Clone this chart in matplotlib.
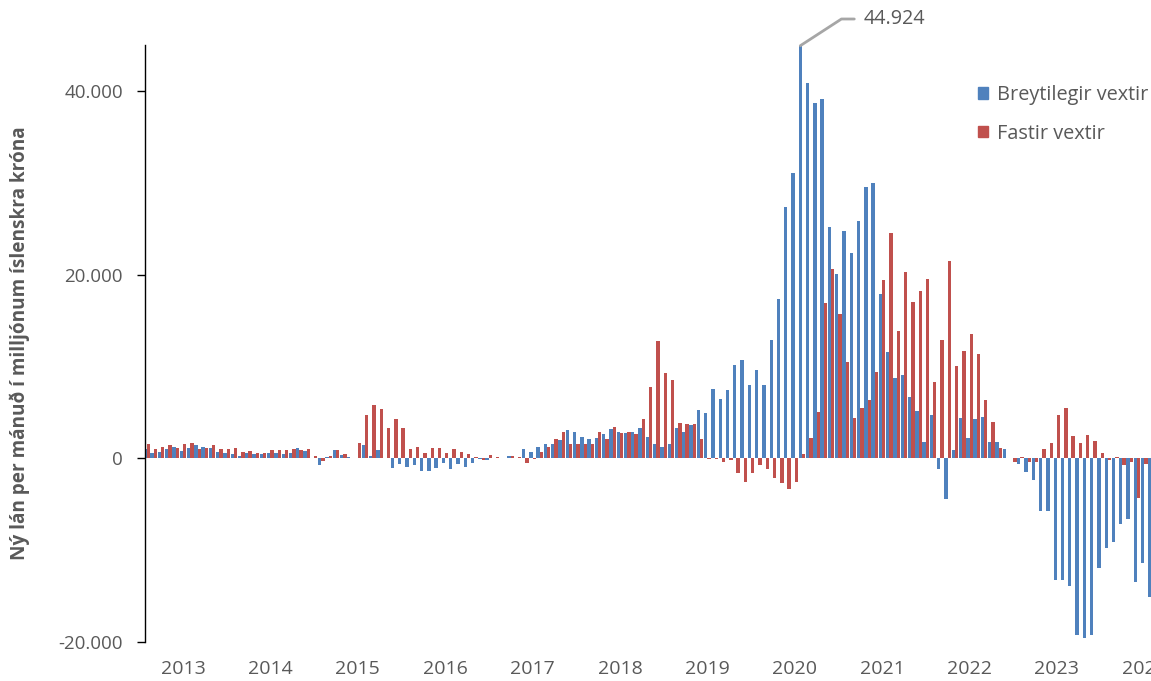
import numpy as np
import matplotlib
matplotlib.use("Agg")
import matplotlib.pyplot as plt
from matplotlib.patches import Patch

# Monthly new loans (ISK millions), first month = index 0, year labels every 12 months
breytilegir = [
    980, 620, 720, 980, 1270, 830, 1120, 1410, 1270, 1120, 720, 620,
    510, 250, 620, 510, 510, 620, 620, 510, 620, 1160, 830, 70,
    -720, 180, 870, 360, 100, 50, 1410, 200, 870, 50, -1050, -620,
    -900, -760, -1410, -1410, -1050, -470, -1200, -620, -1000, -470, -100, -220,
    50, 0, 280, 0, 980, 720, 1270, 1520, 1520, 1950, 3040, 2860,
    2350, 2060, 2210, 2610, 3190, 2900, 2750, 2900, 3290, 2350, 1520, 1270,
    1520, 3290, 2900, 3580, 5230, 4960, 7570, 6480, 7420, 10140, 10680, 7960,
    9590, 7960, 12850, 17340, 27350, 31030, 44924, 40900, 38660, 39100, 25170, 20100,
    24770, 22300, 25860, 29530, 29960, 17930, 11620, 8760, 9050, 6700, 5100, 1810,
    4670, -1120, -4380, 870, 4420, 2240, 4310, 4530, 1810, 1810, 980, 70,
    -650, -1450, -2390, -5790, -5790, -13290, -13290, -13860, -19290, -19580, -19220, -11950,
    -9770, -9090, -7170, -6620, -13430, -11400, -15060,
]
fastir = [
    1590, 980, 1270, 1410, 1120, 1560, 1700, 980, 1120, 1410, 980, 980,
    1120, 720, 830, 620, 620, 870, 870, 870, 980, 870, 980, 250,
    -320, 290, 870, 470, 50, 1700, 4670, 5760, 5390, 3330, 4310, 3330,
    980, 1270, 620, 1160, 1160, 620, 980, 720, 430, 180, -220, 330,
    100, 50, 250, 100, -470, -100, 720, 1270, 2060, 2860, 1520, 1520,
    1520, 1520, 2900, 2100, 3440, 2750, 2900, 2640, 4270, 7780, 12740, 9300,
    8500, 3840, 3730, 3760, 2080, -100, -100, -360, -220, -1560, -2530, -1560,
    -760, -1200, -2100, -2640, -3370, -2530, 430, 2240, 5070, 16900, 20660, 15710,
    10530, 4420, 5500, 6340, 9450, 19410, 24490, 13830, 20270, 16980, 18240, 19550,
    8360, 12850, 21470, 10030, 11660, 13540, 11370, 6340, 3980, 1140, 70, -360,
    180, -430, -360, 980, 1700, 4710, 5500, 2430, 1700, 2500, 1920, 620,
    -220, 150, -760, -360, -4270, -650,
]
years = [str(y) for y in range(2013, 2025)]
first_label_month = 5

blue = "#4F81BD"
red = "#C0504D"
grey = "#595959"
plt.rcParams["font.family"] = ["Open Sans", "DejaVu Sans"]

fig = plt.figure(figsize=(11.51, 6.81), dpi=100)
ax = fig.add_axes([145 / 1151, 1 - 642 / 681, 1 - 145 / 1151, (642 - 45) / 681])

w = 0.46
xb = np.arange(len(breytilegir))
xf = np.arange(len(fastir))
ax.bar(xb - w / 2, breytilegir, width=w, color=blue, linewidth=0,
       label="Breytilegir vextir")
ax.bar(xf + w / 2, fastir, width=w, color=red, linewidth=0,
       label="Fastir vextir")

ax.set_xlim(-0.21, 137.92)
ax.set_ylim(-20000, 45000)

ax.set_yticks([-20000, 0, 20000, 40000])
ax.set_yticklabels(["-20.000", "0", "20.000", "40.000"])
ax.set_xticks([first_label_month + 12 * k for k in range(len(years))])
ax.set_xticklabels(years)

for s in ["top", "right", "bottom"]:
    ax.spines[s].set_visible(False)
ax.spines["left"].set_color("black")
ax.spines["left"].set_linewidth(1)
ax.tick_params(axis="y", direction="out", length=6, width=1, colors="black",
               labelcolor=grey, labelsize=13.5, pad=10)
ax.tick_params(axis="x", length=0, labelcolor=grey, labelsize=14, pad=13)

ax.set_ylabel("Ný lán per mánuð í milljónum íslenskra króna", fontsize=13.7,
              fontweight="bold", color=grey, labelpad=20)

# peak label
imax = int(np.argmax(breytilegir))
ax.annotate(f"{breytilegir[imax]:,}".replace(",", "."),
            xy=(imax - w / 2, breytilegir[imax]),
            xytext=(864, 681 - 19), textcoords="figure pixels",
            ha="left", va="center", fontsize=14.2, color=grey,
            arrowprops=dict(arrowstyle="-", color="#A6A6A6", lw=2,
                            connectionstyle="angle,angleA=0,angleB=33,rad=0",
                            relpos=(0, 0.5), shrinkA=5, shrinkB=0),
            annotation_clip=False)

handles = [Patch(color=blue), Patch(color=red)]
ax.legend(handles, ["Breytilegir vextir", "Fastir vextir"],
          loc="upper left", bbox_to_anchor=(978 / 1151, 1 - 85 / 681),
          bbox_transform=fig.transFigure, frameon=False, fontsize=14.3,
          labelcolor=grey, handlelength=0.5, handleheight=0.5,
          handletextpad=0.45, labelspacing=0.95, borderpad=0, borderaxespad=0)

fig.savefig("out.png", dpi=100)
